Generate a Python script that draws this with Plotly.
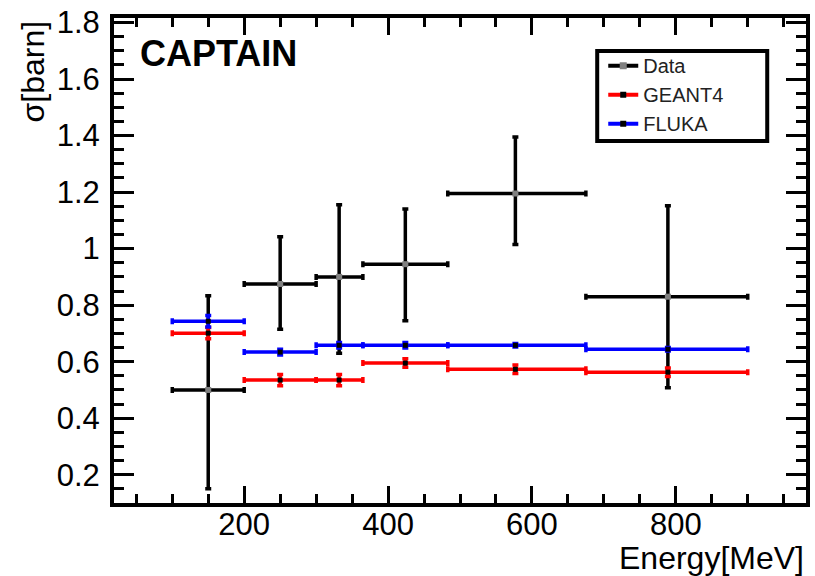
import plotly.graph_objects as go

# ---- data ----
energy = [150, 250, 332, 424, 577, 789]          # bin centres [MeV]
bin_lo = [100, 200, 300, 365, 483, 675]          # bin low edges
bin_hi = [200, 300, 365, 483, 675, 900]          # bin high edges

data_sigma = [0.50, 0.875, 0.90, 0.945, 1.195, 0.83]
data_err_up = [0.333, 0.167, 0.255, 0.195, 0.20, 0.322]
data_err_dn = [0.35, 0.16, 0.27, 0.20, 0.18, 0.322]

geant4_sigma = [0.701, 0.535, 0.535, 0.595, 0.573, 0.563]
geant4_err = [0.02, 0.02, 0.02, 0.015, 0.015, 0.015]

fluka_sigma = [0.743, 0.634, 0.658, 0.658, 0.658, 0.644]
fluka_err = [0.02, 0.01, 0.01, 0.01, 0.006, 0.006]

x_plus = [h - c for h, c in zip(bin_hi, energy)]
x_minus = [c - l for c, l in zip(energy, bin_lo)]

FONT = "Liberation Sans"

fig = go.Figure()


def add_series(name, y, eup, edn, color, mcolor, msize, msym):
    fig.add_trace(go.Scatter(
        x=energy, y=y, mode="markers", showlegend=False, name=name,
        marker=dict(color=mcolor, size=msize, symbol=msym),
        error_x=dict(type="data", symmetric=False, array=x_plus, arrayminus=x_minus,
                     color=color, thickness=3.5, width=3),
        error_y=dict(type="data", symmetric=False, array=eup, arrayminus=edn,
                     color=color, thickness=3.5, width=3),
    ))
    # legend-only entry (line sample like ROOT)
    fig.add_trace(go.Scatter(
        x=[None], y=[None], mode="lines+markers", name=name,
        line=dict(color=color, width=4),
        marker=dict(color=mcolor, size=msize + 1, symbol=msym),
    ))


add_series("Data", data_sigma, data_err_up, data_err_dn, "black", "#808080", 6, "square")
add_series("GEANT4", geant4_sigma, geant4_err, geant4_err, "red", "black", 5, "square")
add_series("FLUKA", fluka_sigma, fluka_err, fluka_err, "blue", "black", 5, "square")

axis_common = dict(
    showline=True, linewidth=4, linecolor="black", mirror="allticks",
    ticks="inside", tickwidth=3, tickcolor="black",
    showgrid=False, zeroline=False,
    tickfont=dict(family=FONT, size=31, color="black"),
)

fig.update_layout(
    width=815, height=576,
    margin=dict(l=114, r=5, t=18, b=73),
    paper_bgcolor="white", plot_bgcolor="white",
    font=dict(family=FONT, color="black"),
    xaxis=dict(range=[19, 981], tickmode="linear", tick0=0, dtick=200, ticklen=17,
               ticklabelstandoff=-9,
               minor=dict(ticks="inside", ticklen=9, tickwidth=3, tickcolor="black",
                          tickmode="linear", tick0=0, dtick=50, showgrid=False),
               **axis_common),
    yaxis=dict(range=[0.1, 1.816], tickmode="array",
               tickvals=[0.2, 0.4, 0.6, 0.8, 1.0, 1.2, 1.4, 1.6, 1.8],
               ticktext=["0.2", "0.4", "0.6", "0.8", "1", "1.2", "1.4", "1.6", "1.8"],
               ticklen=20, ticklabelstandoff=4,
               minor=dict(ticks="inside", ticklen=10, tickwidth=3, tickcolor="black",
                          tickmode="linear", tick0=0, dtick=0.05, showgrid=False),
               **axis_common),
    legend=dict(x=0.707, y=0.942, xanchor="left", yanchor="top",
                bgcolor="rgba(0,0,0,0)", borderwidth=0,
                font=dict(family=FONT, size=20, color="#222"),
                itemwidth=30, tracegroupgap=0),
    showlegend=True,
)

# legend frame
fig.add_shape(type="rect", xref="paper", yref="paper",
              x0=(600 - 114) / 696, x1=(771 - 114) / 696,
              y0=(503 - 141) / 485, y1=(503 - 51) / 485,
              line=dict(color="black", width=4), fillcolor="rgba(0,0,0,0)", layer="above")

fig.add_annotation(text="CAPTAIN", xref="paper", yref="paper",
                   x=(138 - 114) / 696, y=(503 - 54) / 485, xanchor="left", yanchor="middle",
                   showarrow=False, font=dict(family=FONT, size=36, color="black", weight="bold"))
fig.add_annotation(text="Energy[MeV]", xref="paper", yref="paper",
                   x=1.0, y=(503 - 558) / 485, xanchor="right", yanchor="middle",
                   showarrow=False, font=dict(family=FONT, size=32, color="black"))
fig.add_annotation(text="σ[barn]", xref="paper", yref="paper", textangle=-90,
                   x=(33 - 114) / 696, y=1.0, xanchor="center", yanchor="top",
                   showarrow=False, font=dict(family=FONT, size=32, color="black"))

fig.write_html("out.html")
